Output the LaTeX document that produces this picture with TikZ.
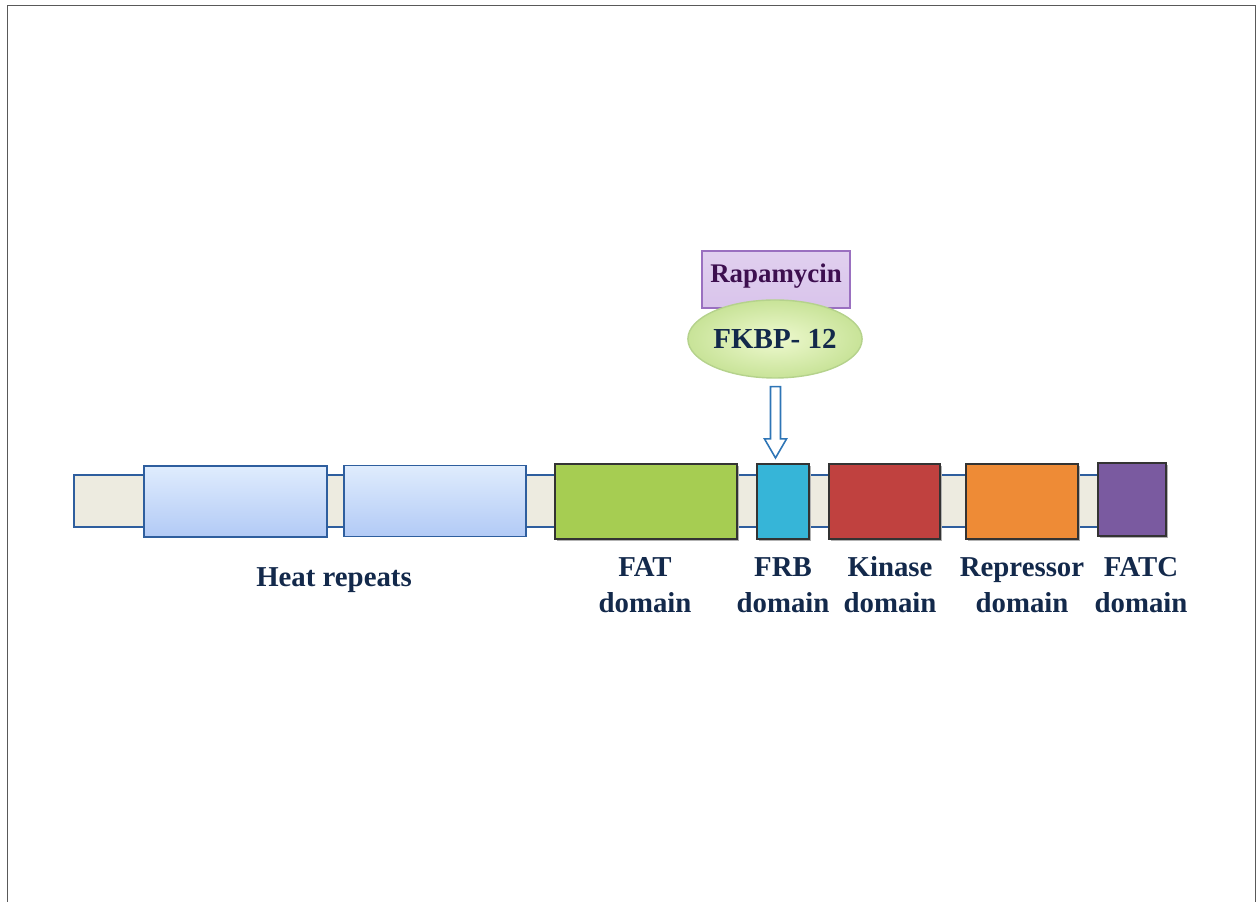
\documentclass[tikz,border=0pt]{standalone}
\usepackage{fontspec}
\setmainfont{Liberation Serif}
\usepackage{tikz}
\usetikzlibrary{shapes,positioning,calc}

\definecolor{linkblue}{HTML}{2E5E9E}
\definecolor{linkfill}{HTML}{EDEBE0}
\definecolor{heattop}{HTML}{DFECFD}
\definecolor{heatbot}{HTML}{B2CAF6}
\definecolor{fatgreen}{HTML}{A6CD52}
\definecolor{frbblue}{HTML}{36B5D8}
\definecolor{kinred}{HTML}{C0413F}
\definecolor{reporange}{HTML}{EE8B36}
\definecolor{fatcpurple}{HTML}{7A5AA0}
\definecolor{lblnavy}{HTML}{13294B}
\definecolor{rapafill}{HTML}{D9C4EB}
\definecolor{rapaedge}{HTML}{9A70C0}
\definecolor{rapatext}{HTML}{3D0F4F}
\definecolor{fkbpin}{HTML}{EEF9CF}
\definecolor{fkbpout}{HTML}{C8E398}
\definecolor{fkbpedge}{HTML}{B5D28C}
\definecolor{arrowblue}{HTML}{2E75B6}

\newcommand{\pxu}{0.02cm}

\tikzset{
	link/.style={draw=linkblue,line width=0.9pt,fill=linkfill,inner sep=0pt},
	heatbox/.style={draw=linkblue,line width=0.9pt,top color=heattop,bottom color=heatbot,inner sep=0pt,minimum height=71*\pxu},
	dombox/.style={draw=black!80,line width=1.2pt,inner sep=0pt},
	lbl/.style={text=lblnavy,font=\fontsize{16.4}{20.4}\selectfont\bfseries,align=center},
	hollowarrow/.style={draw=arrowblue,line width=0.9pt,fill=white}
}

\begin{document}
\begin{tikzpicture}[x=\pxu,y=\pxu]
		\useasboundingbox (0,0) rectangle (1257,902);
		\draw[black!65,line width=0.5pt] (7,0) -- (7,897) -- (1255,897) -- (1255,0);
		\node[link,minimum width=1092*\pxu,minimum height=52*\pxu] (backbone) at (620,401) {};
		\node[heatbox,minimum width=183*\pxu] (heatA) at (235.5,400.5) {};
		\node[heatbox,minimum width=182*\pxu] (heatB) at (435,401) {};
		\foreach \nm/\cx/\cy/\w/\h/\col in {fat/646/400.5/182/75/fatgreen,frb/783/400.5/52/75/frbblue,kinase/884.5/400.5/111/75/kinred,repressor/1022/400.5/112/75/reporange,fatc/1132/402.5/68/73/fatcpurple}{
			\fill[black!30] (\cx-\w/2+2,\cy-\h/2-2) rectangle (\cx+\w/2+2,\cy+\h/2-2);
			\node[dombox,fill=\col,minimum width=\w*\pxu,minimum height=\h*\pxu] (\nm) at (\cx,\cy) {};
		}
		\node[lbl] (lheat) at (334,322) {Heat repeats};
		\foreach \nm/\cx/\txt in {fat/645/FAT,frb/783/FRB,kinase/890/Kinase,repressor/1022/Repressor,fatc/1141/FATC}
			\node[lbl] (l\nm) at (\cx,317) {\txt\\domain};
		\node[draw=rapaedge,line width=1pt,top color=rapafill!80!white,bottom color=rapafill,minimum width=148*\pxu,minimum height=57*\pxu,inner sep=0pt,text=rapatext,font=\fontsize{15.3}{18}\selectfont\bfseries] (rapa) at (776,622.5) {\raisebox{7pt}{Rapamycin}};
		\node[ellipse,draw=fkbpedge,line width=0.8pt,inner color=fkbpin,outer color=fkbpout,minimum width=166*\pxu,minimum height=78*\pxu,inner sep=0pt,text=lblnavy,font=\fontsize{16.5}{19}\selectfont\bfseries] (fkbp) at (775,563) {FKBP- 12};
		\coordinate (arrtip) at ($(frb.north)+(-7.5,5)$);
		\coordinate (arrtop) at ($(arrtip |- fkbp.south)+(0,-8)$);
		\draw[hollowarrow] (arrtip) -- ++(11,19) -- ++(-6,0) -- ($(arrtop)+(5,0)$) -- ($(arrtop)+(-5,0)$) -- ($(arrtip)+(-5,19)$) -- ++(-6,0) -- cycle;
\end{tikzpicture}
\end{document}
